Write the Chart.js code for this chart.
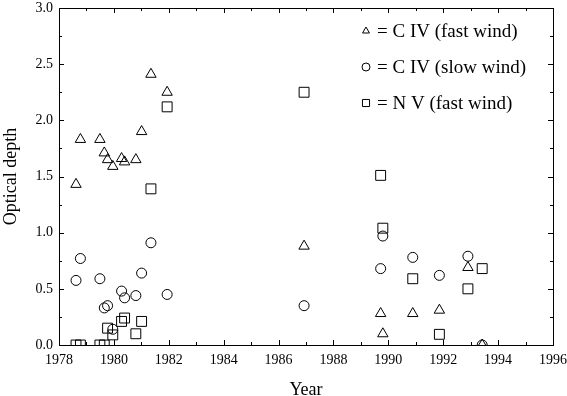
<!DOCTYPE html>
<html lang="en">
<head>
    <meta charset="UTF-8">
    <title>Optical depth vs year</title>
    <script src="https://cdn.jsdelivr.net/npm/chart.js"></script>
    <style>
        html, body { margin: 0; padding: 0; background: #fff; }
        #wrap { width: 567px; height: 396px; }
    </style>
</head>
<body>
<div id="wrap"><canvas id="chart" width="567" height="396"></canvas></div>

<script>
    // observation epochs (shared by the three series)
    const years = [1978.62, 1978.78, 1979.49, 1979.65, 1979.77, 1979.96, 1980.28, 1980.39, 1980.80, 1981.01,
                   1981.35, 1981.94, 1986.93, 1989.72, 1989.80, 1990.89, 1991.86, 1992.90, 1993.42];
    const civFast = [1.43, 1.83, 1.83, 1.71, 1.65, 1.59, 1.66, 1.63, 1.65, 1.90,
                     2.41, 2.25, 0.88, 0.28, 0.10, 0.28, 0.31, 0.69, 0.00];
    const civSlow = [0.575, 0.77, 0.59, 0.33, 0.35, 0.14, 0.48, 0.42, 0.44, 0.64,
                     0.91, 0.45, 0.35, 0.68, 0.97, 0.78, 0.62, 0.79, 0.00];
    const nvFast = [0.00, 0.00, 0.00, 0.00, 0.15, 0.09, 0.21, 0.24, 0.10, 0.21,
                    1.39, 2.12, 2.25, 1.51, 1.04, 0.59, 0.095, 0.50, 0.68];
    const seriesLabels = ['= C IV (fast wind)', '= C IV (slow wind)', '= N V (fast wind)'];
    const xTickLabels = [1978, 1980, 1982, 1984, 1986, 1988, 1990, 1992, 1994, 1996];
    const yTickLabels = [0, 0.5, 1.0, 1.5, 2.0, 2.5, 3.0];

    const FONT = "'Liberation Serif', 'Times New Roman', serif";

    function pts(vals) {
        return years.map((x, i) => ({ x: x, y: vals[i] }));
    }

    // box + inward ticks on all four sides, like the original plot
    const frame = {
        id: 'frame',
        afterDraw(chart) {
            const { ctx, chartArea: a, scales } = chart;
            ctx.save();
            ctx.strokeStyle = '#000';
            ctx.lineWidth = 1;
            ctx.strokeRect(Math.round(a.left) + 0.5, Math.round(a.top) + 0.5,
                           Math.round(a.right - a.left), Math.round(a.bottom - a.top));
            ctx.beginPath();
            scales.x.ticks.forEach(t => {
                const px = Math.round(scales.x.getPixelForValue(t.value)) + 0.5;
                const len = xTickLabels.includes(t.value) ? 5 : 3;
                ctx.moveTo(px, a.bottom); ctx.lineTo(px, a.bottom - len);
                ctx.moveTo(px, a.top); ctx.lineTo(px, a.top + len);
            });
            scales.y.ticks.forEach(t => {
                const py = Math.round(scales.y.getPixelForValue(t.value)) + 0.5;
                const major = yTickLabels.some(v => Math.abs(v - t.value) < 1e-6);
                const len = major ? 5 : 3;
                ctx.moveTo(a.left, py); ctx.lineTo(a.left + len, py);
                ctx.moveTo(a.right, py); ctx.lineTo(a.right - len, py);
            });
            ctx.stroke();

            // legend inside the plot, top right
            const rows = [31, 67, 103];
            ctx.font = '19px ' + FONT;
            ctx.textBaseline = 'middle';
            chart.data.datasets.forEach((ds, i) => {
                const opts = { pointStyle: ds.pointStyle, radius: ds.pointStyle === 'rect' ? 5 : 4, borderWidth: 1 };
                ctx.strokeStyle = '#000';
                ctx.fillStyle = 'rgba(0,0,0,0)';
                Chart.helpers.drawPoint(ctx, opts, 366, rows[i]);
                ctx.fillStyle = '#000';
                ctx.fillText(seriesLabels[i], 377, rows[i] + 1);
            });
            ctx.restore();
        }
    };

    const common = {
        showLine: false,
        borderColor: '#000',
        backgroundColor: 'rgba(0,0,0,0)',
        borderWidth: 1,
        pointHoverRadius: 6
    };

    new Chart(document.getElementById('chart'), {
        type: 'scatter',
        data: {
            datasets: [
                Object.assign({ label: seriesLabels[0], data: pts(civFast), pointStyle: 'triangle', pointRadius: 6 }, common),
                Object.assign({ label: seriesLabels[1], data: pts(civSlow), pointStyle: 'circle', pointRadius: 5 }, common),
                Object.assign({ label: seriesLabels[2], data: pts(nvFast), pointStyle: 'rect', pointRadius: 7 }, common)
            ]
        },
        options: {
            responsive: false,
            animation: false,
            layout: { padding: { top: 6, right: 14, left: 0, bottom: 0 } },
            plugins: {
                legend: { display: false },
                tooltip: { enabled: false }
            },
            scales: {
                x: {
                    type: 'linear',
                    min: 1978,
                    max: 1996,
                    afterFit: s => { s.height = 51; s.paddingLeft = 0; s.paddingRight = 0; },
                    grid: { display: false, drawTicks: false },
                    border: { display: false },
                    ticks: {
                        stepSize: 1,
                        autoSkip: false,
                        maxRotation: 0,
                        padding: 7,
                        color: '#000',
                        font: { family: FONT, size: 14 },
                        callback: v => (xTickLabels.includes(v) ? String(v) : '')
                    },
                    title: {
                        display: true,
                        text: 'Year',
                        color: '#000',
                        padding: { top: 0, bottom: 0 },
                        font: { family: FONT, size: 18, lineHeight: 0.67 }
                    }
                },
                y: {
                    type: 'linear',
                    min: 0,
                    max: 3,
                    afterFit: s => { s.width = 59; s.paddingTop = 0; s.paddingBottom = 0; },
                    grid: { display: false, drawTicks: false },
                    border: { display: false },
                    ticks: {
                        stepSize: 0.25,
                        autoSkip: false,
                        padding: 6,
                        color: '#000',
                        font: { family: FONT, size: 14 },
                        callback: v => (yTickLabels.some(t => Math.abs(t - v) < 1e-6) ? v.toFixed(1) : '')
                    },
                    title: {
                        display: true,
                        text: 'Optical depth',
                        color: '#000',
                        padding: { top: 0, bottom: 0 },
                        font: { family: FONT, size: 18, lineHeight: 1.2 }
                    }
                }
            }
        },
        plugins: [frame]
    });
</script>
</body>
</html>
